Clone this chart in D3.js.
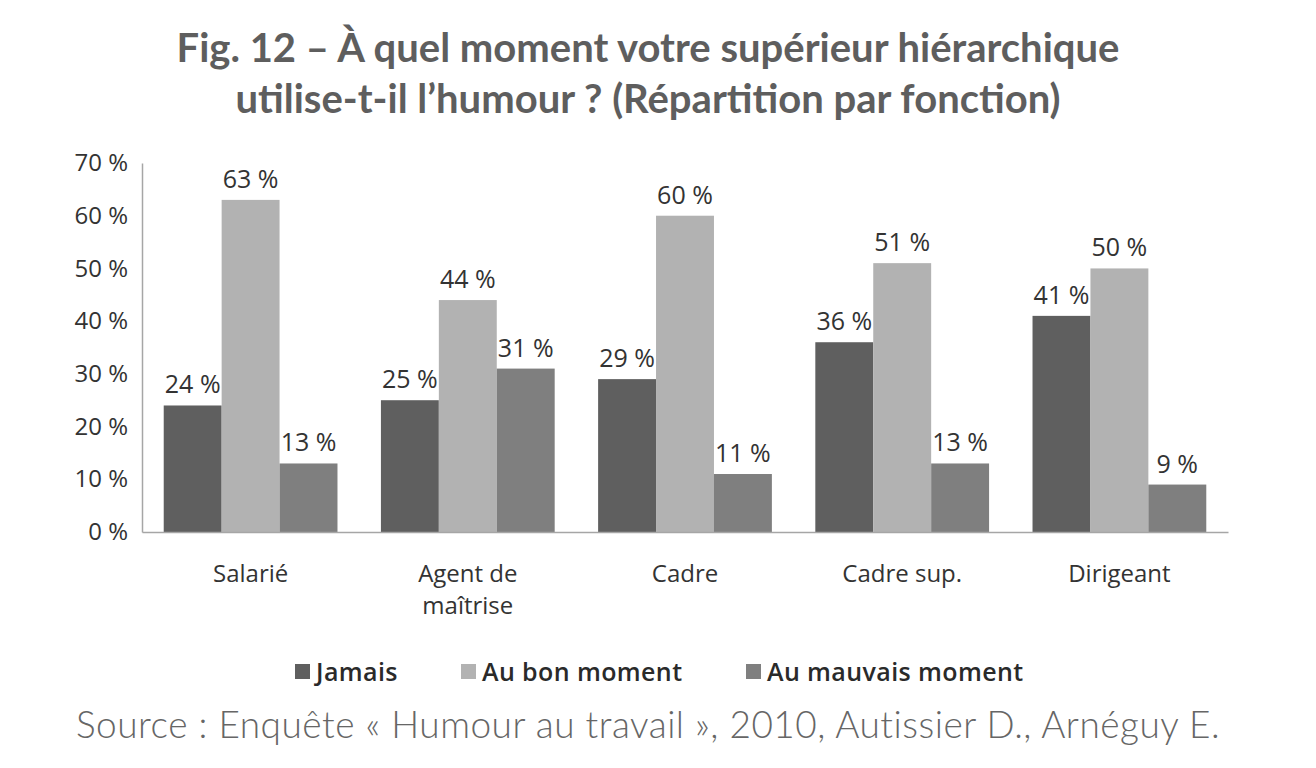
<!DOCTYPE html>
<html>
<head>
<meta charset="utf-8">
<title>Fig. 12</title>
<style>
  body { margin: 0; background: #fff; }
  svg { display: block; }
  .axis path, .axis line { stroke: #a6a6a6; }
  .axis text { font-family: "Open Sans", sans-serif; font-size: 24px; fill: #333; }
</style>
</head>
<body>
<svg width="1316" height="768"></svg>
<script src="https://d3js.org/d3.v7.min.js"></script>
<script>
var categories = ["Salarié", "Agent de maîtrise", "Cadre", "Cadre sup.", "Dirigeant"];
var categoryLines = [["Salarié"], ["Agent de", "maîtrise"], ["Cadre"], ["Cadre sup."], ["Dirigeant"]];
var seriesNames = ["Jamais", "Au bon moment", "Au mauvais moment"];
var jamais = [24, 25, 29, 36, 41];
var auBonMoment = [63, 44, 60, 51, 50];
var auMauvaisMoment = [13, 31, 11, 13, 9];
var yTicks = [0, 10, 20, 30, 40, 50, 60, 70];
var colors = ["#5f5f5f", "#b2b2b2", "#7f7f7f"];

var seriesValues = [jamais, auBonMoment, auMauvaisMoment];

var svg = d3.select("svg"),
    margin = {top: 163, left: 142},
    width = 1086,
    height = 369,
    g = svg.append("g").attr("transform", "translate(" + margin.left + "," + margin.top + ")");

// title
var title = svg.append("text")
    .attr("text-anchor", "middle")
    .attr("font-family", "Lato, sans-serif")
    .attr("font-weight", "bold")
    .attr("font-size", 40)
    .attr("fill", "#5e5e5e");
title.append("tspan").attr("x", 648).attr("y", 62).text("Fig. 12 – À quel moment votre supérieur hiérarchique");
title.append("tspan").attr("x", 648).attr("y", 113).text("utilise-t-il l’humour ? (Répartition par fonction)");

var x0 = d3.scaleBand()
    .domain(categories)
    .range([0, width])
    .paddingInner(0.2)
    .paddingOuter(0.1);

var x1 = d3.scaleBand()
    .domain(seriesNames)
    .range([0, x0.bandwidth()]);

var y = d3.scaleLinear()
    .domain([0, 70])
    .range([height, 0]);

var color = d3.scaleOrdinal().domain(seriesNames).range(colors);

// y axis
g.append("g")
    .attr("class", "axis")
    .call(d3.axisLeft(y).tickValues(yTicks).tickSize(0).tickPadding(14)
      .tickFormat(function(d) { return d + " %"; }))
    .call(function(a) { a.select(".domain").attr("stroke-width", 1.5); });

// bars
var groups = g.append("g")
  .selectAll("g")
  .data(categories)
  .enter().append("g")
    .attr("transform", function(d) { return "translate(" + x0(d) + ",0)"; });

var cells = groups.selectAll("g")
  .data(function(d, i) { return seriesNames.map(function(s, j) { return {key: s, value: seriesValues[j][i]}; }); })
  .enter().append("g");

cells.append("rect")
    .attr("x", function(d) { return x1(d.key); })
    .attr("y", function(d) { return y(d.value); })
    .attr("width", x1.bandwidth())
    .attr("height", function(d) { return height - y(d.value); })
    .attr("fill", function(d) { return color(d.key); });

cells.append("text")
    .attr("x", function(d) { return x1(d.key) + x1.bandwidth() / 2; })
    .attr("y", function(d) { return y(d.value) - 12; })
    .attr("text-anchor", "middle")
    .attr("font-family", "Open Sans, sans-serif")
    .attr("font-size", 25)
    .attr("fill", "#333")
    .text(function(d) { return d.value + " %"; });

// x axis
var xAxis = g.append("g")
    .attr("class", "axis")
    .attr("transform", "translate(0," + height + ")")
    .call(d3.axisBottom(x0).tickSize(0).tickFormat(""));
xAxis.select(".domain").attr("stroke-width", 1.5);

xAxis.selectAll(".tick text").remove();
xAxis.selectAll(".tick").append("text")
    .attr("text-anchor", "middle")
    .attr("font-family", "Open Sans, sans-serif")
    .attr("font-size", 25)
    .attr("fill", "#222")
    .each(function(d, i) {
      var t = d3.select(this);
      categoryLines[i].forEach(function(line, k) {
        t.append("tspan").attr("x", 0).attr("y", 50 + k * 32).text(line);
      });
    });

// legend
var legendX = [295, 461, 746];
var legend = svg.append("g")
  .selectAll("g")
  .data(seriesNames)
  .enter().append("g")
    .attr("transform", function(d, i) { return "translate(" + legendX[i] + ",672)"; });

legend.append("rect")
    .attr("x", 0)
    .attr("y", -8)
    .attr("width", 15)
    .attr("height", 15)
    .attr("fill", color);

legend.append("text")
    .attr("x", 21)
    .attr("y", 0)
    .attr("dy", "0.35em")
    .attr("font-family", "Open Sans, sans-serif")
    .attr("font-weight", 600)
    .attr("font-size", 25)
    .attr("letter-spacing", 0.4)
    .attr("fill", "#2a2a2a")
    .text(function(d) { return d; });

// source
svg.append("text")
    .attr("x", 648)
    .attr("y", 738)
    .attr("text-anchor", "middle")
    .attr("font-family", "Lato, sans-serif")
    .attr("font-weight", 300)
    .attr("font-size", 37)
    .attr("letter-spacing", 0.5)
    .attr("fill", "#666")
    .text("Source : Enquête « Humour au travail », 2010, Autissier D., Arnéguy E.");
</script>
</body>
</html>
